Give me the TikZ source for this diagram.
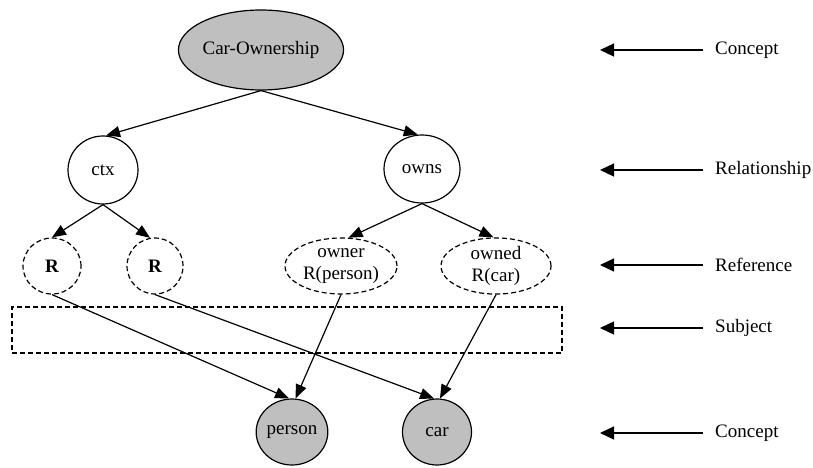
\documentclass[tikz,border=0pt]{standalone}
\usepackage{fontspec}
\setmainfont{Liberation Serif}
\usetikzlibrary{shapes.geometric,arrows.meta}
\begin{document}
\begin{tikzpicture}[x=1pt,y=-1pt,
  every node/.style={font=\fontsize{19}{22.5}\selectfont},
  ell/.style={ellipse,draw,line width=1.2pt,inner sep=0pt,align=center},
  concept/.style={ell,fill=gray!50},
  refer/.style={ell,dash pattern=on 5pt off 3pt},
  edge/.style={line width=1.2pt,-{Triangle[length=14pt,width=11pt]}},
  legend/.style={line width=1.2pt,-{Triangle[length=14pt,width=13pt]}},
  lbl/.style={anchor=west,inner sep=0pt}]
\useasboundingbox (0,0) rectangle (813,468);
% nodes
\node[concept,minimum width=158pt,minimum height=80pt] (co) at (261,50) {Car-Ownership};
\node[ell,minimum width=70pt,minimum height=68pt] (ctx) at (103,170) {ctx};
\node[ell,minimum width=76pt,minimum height=68pt] (owns) at (422,169) {owns};
\node[refer,minimum width=58pt,minimum height=56pt] (r1) at (52,266) {\textbf{R}};
\node[refer,minimum width=56pt,minimum height=56pt] (r2) at (155,266) {\textbf{R}};
\node[refer,minimum width=112pt,minimum height=56pt] (owner) at (341,266) {owner\\R(person)};
\node[refer,minimum width=110pt,minimum height=56pt] (owned) at (496,266) {owned\\R(car)};
\node[draw,dash pattern=on 5pt off 3pt,line width=1.2pt,minimum width=550pt,minimum height=46pt,inner sep=0pt] (subj) at (287,330) {};
\node[concept,minimum width=69pt,minimum height=66pt] (person) at (292,432) {person};
\node[concept,minimum width=69pt,minimum height=66pt] (car) at (437,432) {car};
% edges
\draw[edge] (co.south) -- (ctx.85);
\draw[edge] (co.south) -- (owns.97);
\draw[edge] (ctx.south) -- (r1.north);
\draw[edge] (ctx.south) -- (r2.100);
\draw[edge] (owns.south) -- (owner.75);
\draw[edge] (owns.south) -- (owned.95);
\draw[edge] (r1.south) -- (person.95);
\draw[edge] (owner.south) -- (person.84);
\draw[edge] (r2.south) -- (car.95);
\draw[edge] (owned.south) -- (car.85);
% legend
\coordinate (l1s) at (703,50);  \coordinate (l1e) at (600,50);
\coordinate (l2s) at (703,170); \coordinate (l2e) at (600,170);
\coordinate (l3s) at (703,265); \coordinate (l3e) at (600,265);
\coordinate (l4s) at (703,328); \coordinate (l4e) at (600,328);
\coordinate (l5s) at (703,433); \coordinate (l5e) at (600,433);
\draw[legend] (l1s) -- (l1e);
\draw[legend] (l2s) -- (l2e);
\draw[legend] (l3s) -- (l3e);
\draw[legend] (l4s) -- (l4e);
\draw[legend] (l5s) -- (l5e);
\node[lbl] (t1) at (715,50) {Concept};
\node[lbl] (t2) at (715,170) {Relationship};
\node[lbl] (t3) at (715,265) {Reference};
\node[lbl] (t4) at (715,328) {Subject};
\node[lbl] (t5) at (715,433) {Concept};
\end{tikzpicture}
\end{document}
